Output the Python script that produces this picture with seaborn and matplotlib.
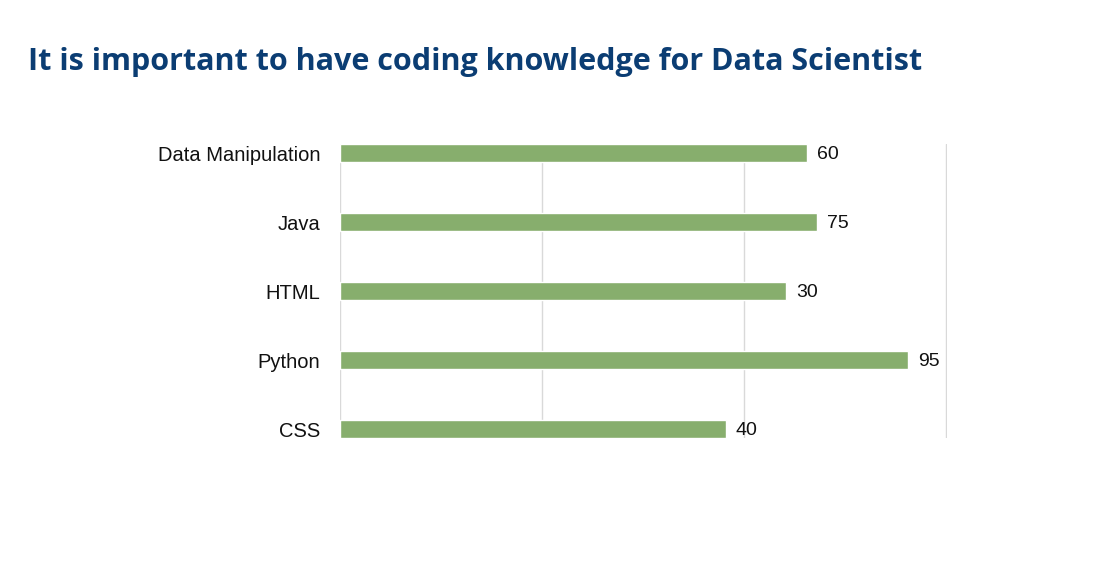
import matplotlib
matplotlib.use("Agg")
import matplotlib.pyplot as plt
import seaborn as sns
import pandas as pd

skills = ["Data Manipulation", "Java", "HTML", "Python", "CSS"]
bar_lengths = [2.31, 2.36, 2.21, 2.81, 1.91]
shown_labels = ["60", "75", "30", "95", "40"]

df = pd.DataFrame({"skill": skills, "value": bar_lengths})

sns.set_style("white")
plt.rcParams["font.family"] = ["Open Sans", "DejaVu Sans"]

fig = plt.figure(figsize=(11, 5.86), dpi=100)
ax = fig.add_axes([0.309, 0.253, 0.552, 0.501])

sns.barplot(data=df, x="value", y="skill", color="#87ae6d", saturation=1,
            width=0.26, ax=ax, zorder=3)

for p, lab in zip(ax.patches, shown_labels):
    ax.text(p.get_width() + 0.05, p.get_y() + p.get_height() / 2 + 0.02, lab,
            va="center", ha="left", fontsize=14, color="#111111",
            family=["Liberation Sans", "DejaVu Sans"])

ax.set_xlim(0, 3.005)
ax.set_ylim(4.12, -0.13)
ax.set_xticks([0, 1, 2, 3])
ax.set_xticklabels([])
ax.grid(axis="x", color="#d9d9d9", linewidth=1, zorder=0)
for s in ax.spines.values():
    s.set_visible(False)
ax.tick_params(axis="y", length=0, pad=14, labelsize=14.5, labelcolor="#111111")
for t in ax.get_yticklabels():
    t.set_family(["Liberation Sans", "DejaVu Sans"])
ax.tick_params(axis="x", length=0)
ax.set_xlabel("")
ax.set_ylabel("")

fig.text(0.025, 0.895, "It is important to have coding knowledge for Data Scientist",
         fontsize=22, fontweight="bold", color="#0b3d73", ha="left", va="center")

fig.savefig("out.png", dpi=100, facecolor="white")
